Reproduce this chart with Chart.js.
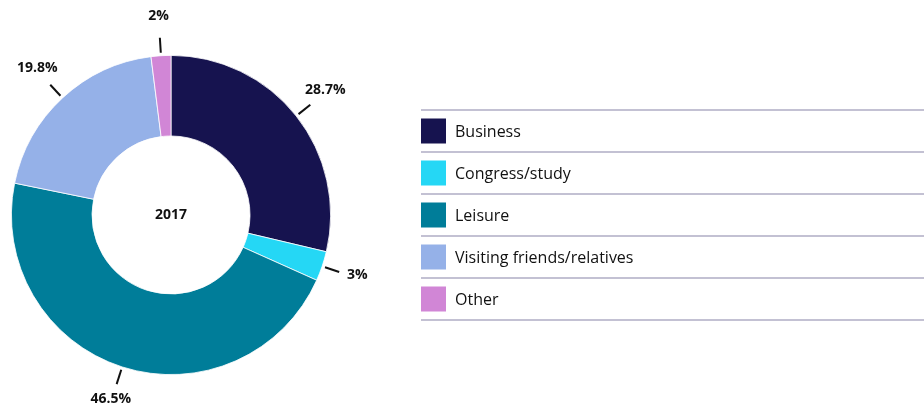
<!DOCTYPE html>
<html>
<head>
<meta charset="utf-8">
<script src="https://cdn.jsdelivr.net/npm/chart.js@4.4.1/dist/chart.umd.min.js"></script>
<style>
  html, body { margin: 0; padding: 0; background: #fff; }
  #wrap { position: relative; width: 924px; height: 410px; }
</style>
</head>
<body>
<div id="wrap"><canvas id="tripChart" width="924" height="410"></canvas></div>
<script>
// --- Data ---
const categories = ['Business', 'Congress/study', 'Leisure', 'Visiting friends/relatives', 'Other'];
const shares = [28.7, 3, 46.5, 19.8, 2];
const valueLabels = ['28.7%', '3%', '46.5%', '19.8%', '2%'];
const sliceColors = ['#16134f', '#25d7f5', '#007d99', '#95b1e8', '#d186d6'];
const centerLabel = '2017';

const FONT = '"Open Sans", "Noto Sans", sans-serif';

// leader lines + outside labels + center text
const labelsPlugin = {
    id: 'labelsPlugin',
    afterDatasetsDraw(chart) {
        const ctx = chart.ctx;
        const arcs = chart.getDatasetMeta(0).data;
        ctx.save();
        arcs.forEach((arc, i) => {
            const p = arc.getProps(['x', 'y', 'startAngle', 'endAngle', 'outerRadius'], true);
            const mid = (p.startAngle + p.endAngle) / 2;
            const c = Math.cos(mid), s = Math.sin(mid);
            ctx.strokeStyle = '#111';
            ctx.lineWidth = 2;
            ctx.beginPath();
            ctx.moveTo(p.x + c * (p.outerRadius + 3), p.y + s * (p.outerRadius + 3));
            ctx.lineTo(p.x + c * (p.outerRadius + 18), p.y + s * (p.outerRadius + 18));
            ctx.stroke();
            ctx.fillStyle = '#111';
            ctx.font = 'bold 14px ' + FONT;
            ctx.textAlign = 'center';
            ctx.textBaseline = 'middle';
            const r = p.outerRadius + 37;
            ctx.fillText(valueLabels[i], p.x + c * r, p.y + s * r - 3);
        });
        const a0 = arcs[0];
        ctx.font = 'bold 14px ' + FONT;
        ctx.fillText(centerLabel, a0.x, a0.y);
        ctx.restore();
    }
};

// legend with separator lines on the right
const legendPlugin = {
    id: 'sideLegend',
    afterDraw(chart) {
        const ctx = chart.ctx;
        const x0 = 421, top = 110, rowH = 42;
        ctx.save();
        ctx.strokeStyle = '#c3c1d3';
        ctx.lineWidth = 2;
        for (let i = 0; i <= categories.length; i++) {
            const y = top + i * rowH;
            ctx.beginPath();
            ctx.moveTo(x0, y);
            ctx.lineTo(924, y);
            ctx.stroke();
        }
        categories.forEach((name, i) => {
            const cy = top + i * rowH + rowH / 2;
            ctx.fillStyle = sliceColors[i];
            ctx.fillRect(x0, cy - 12.5, 25, 25);
            ctx.fillStyle = '#111';
            ctx.font = '16px ' + FONT;
            ctx.textAlign = 'left';
            ctx.textBaseline = 'middle';
            ctx.fillText(name, 455, cy + 1);
        });
        ctx.restore();
    }
};

new Chart(document.getElementById('tripChart'), {
    type: 'doughnut',
    data: {
        labels: categories,
        datasets: [{
            data: shares,
            backgroundColor: sliceColors,
            borderColor: '#ffffff',
            borderWidth: 0.8
        }]
    },
    options: {
        responsive: false,
        animation: false,
        cutout: '49.5%',
        layout: { padding: { left: 11, right: 593, top: 55, bottom: 35 } },
        plugins: {
            legend: { display: false },
            tooltip: { enabled: false }
        }
    },
    plugins: [labelsPlugin, legendPlugin]
});
</script>
</body>
</html>
